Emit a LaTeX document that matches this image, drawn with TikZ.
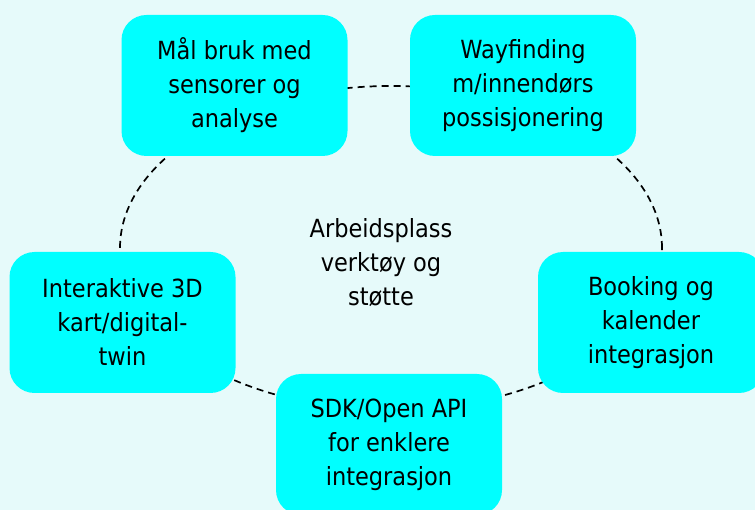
\documentclass[tikz,border=0pt]{standalone}
\usepackage{fontspec}
\setmainfont{DejaVu Sans Condensed}
\definecolor{bgcyan}{HTML}{E6FAFA}
\definecolor{boxcyan}{HTML}{00FFFF}
\tikzset{
    topic/.style={fill=boxcyan, rounded corners=25pt, minimum width=226pt,
        minimum height=141pt, align=center, inner sep=0pt,
        font=\fontsize{25}{34}\selectfont},
    ring/.style={black, line width=1.7pt, dash pattern=on 7pt off 5pt}
}
\begin{document}
\begin{tikzpicture}[x=1pt, y=-1pt]
        \fill[bgcyan] (0,0) rectangle (755,510);
        \useasboundingbox (0,0) rectangle (755,510);

        % the dashed ring runs behind the boxes
        \coordinate (hubc) at (391,248);
        \draw[ring] (hubc) ellipse [x radius=271pt, y radius=162pt];

        \node[topic] (maal) at (234.5,85.5) {Mål bruk med\\sensorer og\\analyse};
        \node[topic] (wayf) at (523,85.5) {Wayfinding\\m/innendørs\\possisjonering};
        \node[topic] (kart) at (122.5,322.5) {Interaktive 3D\\kart/digital-\\twin};
        \node[topic] (book) at (651,322.5) {Booking og\\kalender\\integrasjon};
        \node[topic] (sdk) at (389,444.5) {SDK/Open API\\for enklere\\integrasjon};

        \node[align=center, font=\fontsize{25}{34}\selectfont] (hub) at (381,263)
            {Arbeidsplass\\verktøy og\\støtte};
    \end{tikzpicture}
\end{document}
